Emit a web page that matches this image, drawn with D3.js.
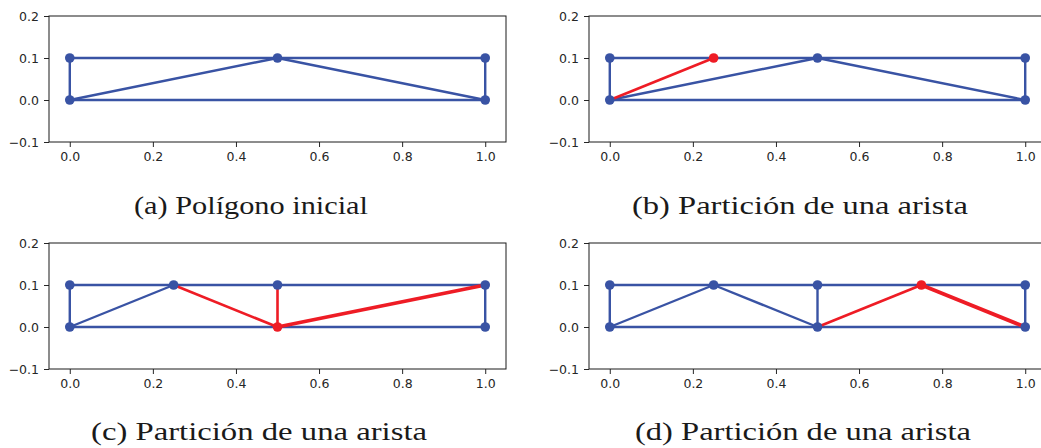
<!DOCTYPE html>
<html lang="es">
<head>
<meta charset="UTF-8">
<title>Partición de una arista</title>
<script src="https://d3js.org/d3.v7.min.js"></script>
<style>
    body { margin: 0; background: #fff; }
    svg { display: block; }
    .tick text { font-family: "DejaVu Sans", sans-serif; font-size: 12.5px; fill: #262626; }
    .tick line { stroke: #262626; }
    .caption { font-family: "Liberation Serif", "DejaVu Serif", serif; font-size: 26px; fill: #1a1a1a; }
</style>
</head>
<body>
<svg id="chart" width="1041" height="448"></svg>
<script>
    // ticks
    const xTicks = [0.0, 0.2, 0.4, 0.6, 0.8, 1.0];
    const yTicks = [-0.1, 0.0, 0.1, 0.2];

    const captions = [
        '(a) Polígono inicial',
        '(b) Partición de una arista',
        '(c) Partición de una arista',
        '(d) Partición de una arista'
    ];

    // (a) initial polygon
    const edgesA = [[[0, 0], [1, 0]], [[0, 0.1], [1, 0.1]], [[0, 0], [0, 0.1]], [[1, 0], [1, 0.1]],
                    [[0, 0], [0.5, 0.1]], [[0.5, 0.1], [1, 0]]];
    const nodesA = [[0, 0], [0, 0.1], [0.5, 0.1], [1, 0.1], [1, 0]];
    const newEdgesA = [];
    const heavyEdgesA = [];
    const newNodesA = [];

    // (b)
    const edgesB = [[[0, 0], [1, 0]], [[0, 0.1], [1, 0.1]], [[0, 0], [0, 0.1]], [[1, 0], [1, 0.1]],
                    [[0, 0], [0.5, 0.1]], [[0.5, 0.1], [1, 0]]];
    const nodesB = [[0, 0], [0, 0.1], [0.5, 0.1], [1, 0.1], [1, 0]];
    const newEdgesB = [[[0, 0], [0.25, 0.1]]];
    const heavyEdgesB = [];
    const newNodesB = [[0.25, 0.1]];

    // (c)
    const edgesC = [[[0, 0], [1, 0]], [[0, 0.1], [1, 0.1]], [[0, 0], [0, 0.1]], [[1, 0], [1, 0.1]],
                    [[0, 0], [0.25, 0.1]]];
    const nodesC = [[0, 0], [0, 0.1], [0.25, 0.1], [0.5, 0.1], [1, 0.1], [1, 0]];
    const newEdgesC = [[[0.25, 0.1], [0.5, 0]], [[0.5, 0.1], [0.5, 0]]];
    const heavyEdgesC = [[[0.5, 0], [1, 0.1]]];
    const newNodesC = [[0.5, 0]];

    // (d)
    const edgesD = [[[0, 0], [1, 0]], [[0, 0.1], [1, 0.1]], [[0, 0], [0, 0.1]], [[1, 0], [1, 0.1]],
                    [[0, 0], [0.25, 0.1]], [[0.25, 0.1], [0.5, 0]], [[0.5, 0], [0.5, 0.1]]];
    const nodesD = [[0, 0], [0, 0.1], [0.25, 0.1], [0.5, 0.1], [0.5, 0], [1, 0.1], [1, 0]];
    const newEdgesD = [[[0.5, 0], [0.75, 0.1]]];
    const heavyEdgesD = [[[0.75, 0.1], [1, 0]]];
    const newNodesD = [[0.75, 0.1]];

    const panels = [
        { edges: edgesA, nodes: nodesA, newEdges: newEdgesA, heavy: heavyEdgesA, newNodes: newNodesA, ox: 49, oy: 16, cx: 251, cy: 214, tw: 234 },
        { edges: edgesB, nodes: nodesB, newEdges: newEdgesB, heavy: heavyEdgesB, newNodes: newNodesB, ox: 589, oy: 16, cx: 800, cy: 214, tw: 336 },
        { edges: edgesC, nodes: nodesC, newEdges: newEdgesC, heavy: heavyEdgesC, newNodes: newNodesC, ox: 49, oy: 243, cx: 259, cy: 440, tw: 336 },
        { edges: edgesD, nodes: nodesD, newEdges: newEdgesD, heavy: heavyEdgesD, newNodes: newNodesD, ox: 589, oy: 243, cx: 803, cy: 440, tw: 336 }
    ];

    const blue = '#3953a4';
    const red = '#ee1c25';
    const pw = 457, ph = 126;

    const svg = d3.select('#chart');
    const x = d3.scaleLinear().domain([-0.05, 1.05]).range([0, pw]);
    const y = d3.scaleLinear().domain([-0.1, 0.2]).range([ph, 0]);
    const line = d3.line().x(d => x(d[0])).y(d => y(d[1]));

    panels.forEach((p, i) => {
        const g = svg.append('g').attr('transform', `translate(${p.ox},${p.oy})`);

        g.append('g')
            .attr('transform', `translate(0,${ph})`)
            .call(d3.axisBottom(x).tickValues(xTicks).tickSize(5).tickPadding(5).tickFormat(d3.format('.1f')))
            .call(a => a.select('.domain').remove());
        g.append('g')
            .call(d3.axisLeft(y).tickValues(yTicks).tickSize(5).tickPadding(5).tickFormat(d3.format('.1f')))
            .call(a => a.select('.domain').remove());

        g.selectAll('path.edge')
            .data(p.edges)
            .enter().append('path')
            .attr('class', 'edge')
            .attr('d', line)
            .attr('fill', 'none')
            .attr('stroke', blue)
            .attr('stroke-width', 2.4);

        g.selectAll('path.new')
            .data(p.newEdges)
            .enter().append('path')
            .attr('class', 'new')
            .attr('d', line)
            .attr('fill', 'none')
            .attr('stroke', red)
            .attr('stroke-width', 2.6);

        g.selectAll('path.heavy')
            .data(p.heavy)
            .enter().append('path')
            .attr('class', 'heavy')
            .attr('d', line)
            .attr('fill', 'none')
            .attr('stroke', red)
            .attr('stroke-width', 3.8);

        g.selectAll('circle.node')
            .data(p.nodes)
            .enter().append('circle')
            .attr('class', 'node')
            .attr('cx', d => x(d[0]))
            .attr('cy', d => y(d[1]))
            .attr('r', 4.8)
            .attr('fill', blue);

        g.selectAll('circle.newnode')
            .data(p.newNodes)
            .enter().append('circle')
            .attr('class', 'newnode')
            .attr('cx', d => x(d[0]))
            .attr('cy', d => y(d[1]))
            .attr('r', 4.8)
            .attr('fill', red);

        // frame
        g.append('rect')
            .attr('width', pw)
            .attr('height', ph)
            .attr('fill', 'none')
            .attr('stroke', '#1a1a1a')
            .attr('stroke-width', 1);

        svg.append('text')
            .attr('class', 'caption')
            .attr('x', p.cx)
            .attr('y', p.cy)
            .attr('text-anchor', 'middle')
            .attr('textLength', p.tw)
            .attr('lengthAdjust', 'spacingAndGlyphs')
            .text(captions[i]);
    });
</script>
</body>
</html>
